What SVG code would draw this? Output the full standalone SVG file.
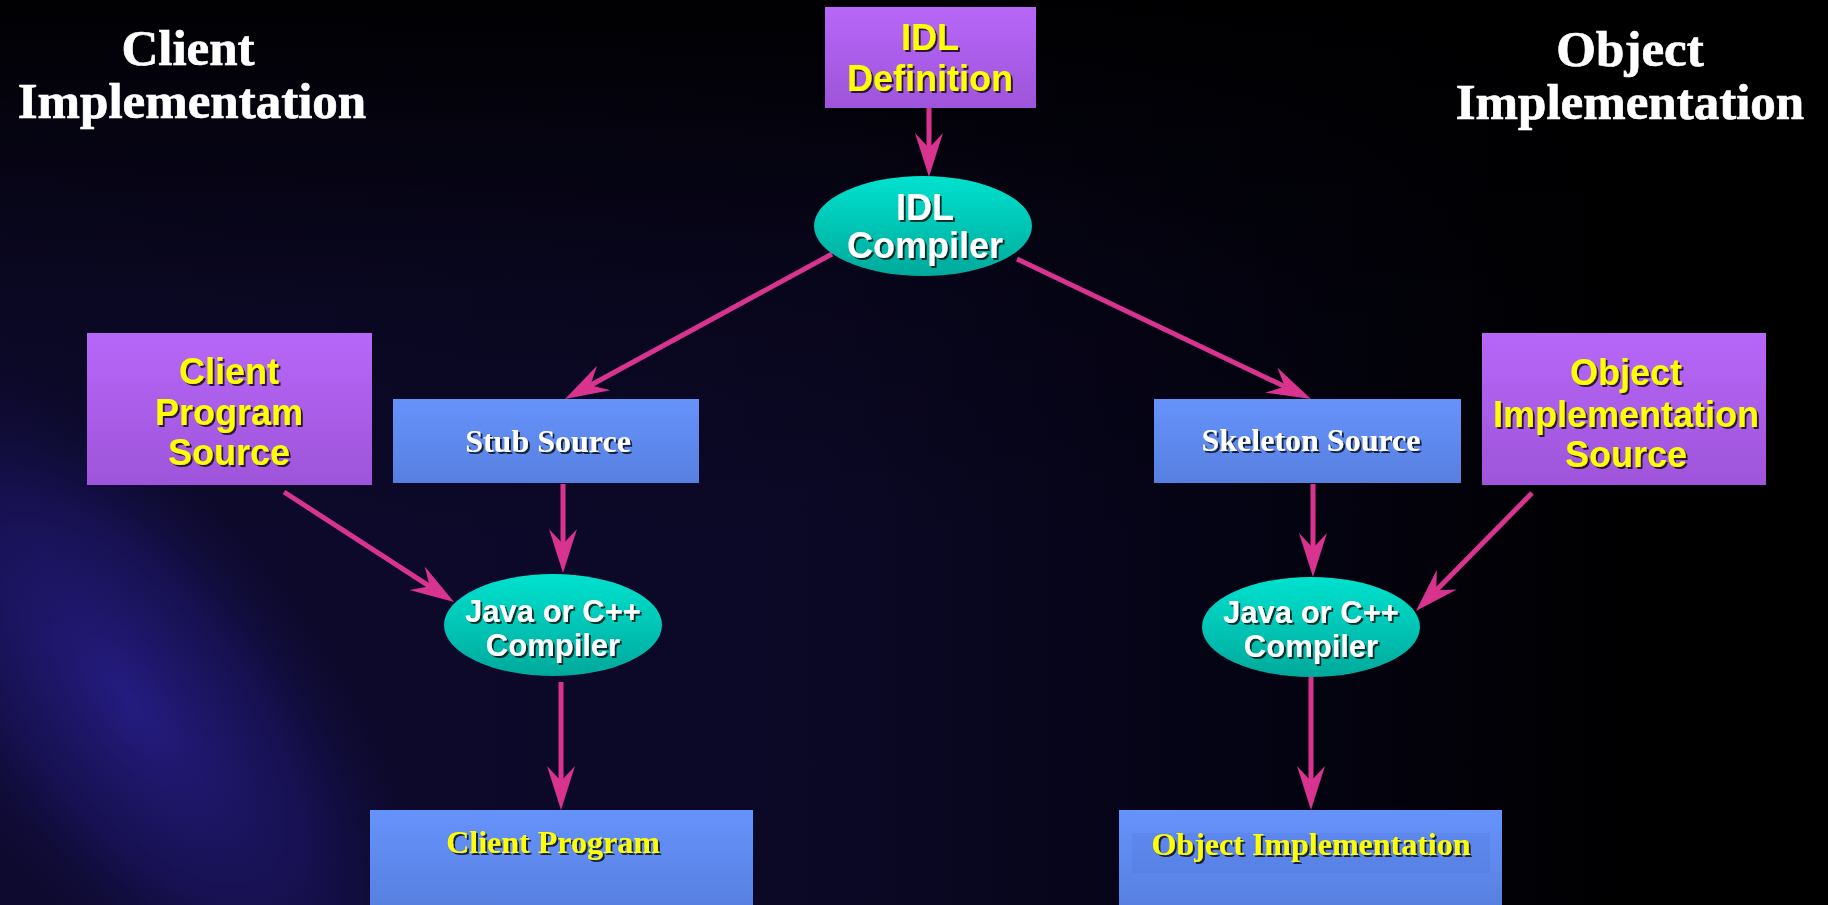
<svg xmlns="http://www.w3.org/2000/svg" width="1828" height="905" viewBox="0 0 1828 905">
  <defs>
    <linearGradient id="bgH" x1="0" y1="0" x2="1" y2="0">
      <stop offset="0" stop-color="#0e0a2f"/>
      <stop offset="0.45" stop-color="#0b0826"/>
      <stop offset="0.7" stop-color="#040312"/>
      <stop offset="0.9" stop-color="#000000"/>
    </linearGradient>
    <linearGradient id="bgTop" x1="0" y1="0" x2="0" y2="1">
      <stop offset="0" stop-color="#000" stop-opacity="0.95"/>
      <stop offset="0.33" stop-color="#000" stop-opacity="0.25"/>
      <stop offset="0.6" stop-color="#000" stop-opacity="0"/>
    </linearGradient>
    <radialGradient id="glow" cx="130" cy="700" r="300" gradientUnits="userSpaceOnUse"
        gradientTransform="translate(130 700) rotate(52) scale(1.5 0.65) translate(-130 -700)">
      <stop offset="0" stop-color="#261d85" stop-opacity="0.95"/>
      <stop offset="0.55" stop-color="#1d166a" stop-opacity="0.6"/>
      <stop offset="1" stop-color="#120e44" stop-opacity="0"/>
    </radialGradient>
    <linearGradient id="purple" x1="0" y1="0" x2="0" y2="1">
      <stop offset="0" stop-color="#b767f8"/>
      <stop offset="1" stop-color="#9e54da"/>
    </linearGradient>
    <linearGradient id="blue" x1="0" y1="0" x2="0" y2="1">
      <stop offset="0" stop-color="#6693fb"/>
      <stop offset="1" stop-color="#577fe0"/>
    </linearGradient>
    <linearGradient id="teal" x1="0" y1="0" x2="0" y2="1">
      <stop offset="0" stop-color="#00e2cf"/>
      <stop offset="1" stop-color="#00a99b"/>
    </linearGradient>
    <filter id="shadow" x="-10%" y="-20%" width="120%" height="150%">
      <feDropShadow dx="2" dy="2" stdDeviation="0.6" flood-color="#000" flood-opacity="0.75"/>
    </filter>
    <marker id="arrow" viewBox="-16 -15 46 30" refX="0" refY="0" markerWidth="46" markerHeight="30" markerUnits="userSpaceOnUse" orient="auto">
      <path d="M29,0 L-15,-14 L0,0 L-15,14 Z" fill="#d8348f"/>
    </marker>
    <style>
      .purpleBox { fill: url(#purple); }
      .blueBox { fill: url(#blue); }
      .oval { fill: url(#teal); }
      .sans { font-family: "Liberation Sans", Arial, sans-serif; font-weight: bold; text-anchor: middle; filter: url(#shadow); }
      .serif { font-family: "Liberation Serif", "Times New Roman", serif; font-weight: bold; text-anchor: middle; filter: url(#shadow); }
      .yellow { fill: #ffff00; }
      .white { fill: #ffffff; }
      .title { font-size: 51px; fill: #ffffff; stroke: #ffffff; stroke-width: 0.7; font-family: "Liberation Serif", "Times New Roman", serif; font-weight: bold; text-anchor: middle; }
      .conn { stroke: #d8348f; stroke-width: 5; fill: none; marker-end: url(#arrow); }
    </style>
  </defs>

  <!-- background -->
  <rect x="0" y="0" width="1828" height="905" fill="url(#bgH)"/>
  <rect x="0" y="0" width="1828" height="905" fill="url(#glow)"/>
  <rect x="0" y="0" width="1828" height="905" fill="url(#bgTop)"/>

  <!-- column titles -->
  <g id="title-client">
    <text class="title" x="188" y="65">Client</text>
    <text class="title" x="192" y="118">Implementation</text>
  </g>
  <g id="title-object">
    <text class="title" x="1630" y="66">Object</text>
    <text class="title" x="1630" y="119">Implementation</text>
  </g>

  <!-- connectors -->
  <g id="connectors">
    <line class="conn" x1="929" y1="104" x2="929" y2="148"/>
    <line class="conn" x1="832" y1="254" x2="590.5" y2="385.2"/>
    <line class="conn" x1="1017" y1="259" x2="1284.8" y2="386.5"/>
    <line class="conn" x1="284" y1="492" x2="429.7" y2="586.3"/>
    <line class="conn" x1="563" y1="484" x2="563" y2="544"/>
    <line class="conn" x1="561" y1="682" x2="561" y2="781"/>
    <line class="conn" x1="1313" y1="484" x2="1313" y2="548"/>
    <line class="conn" x1="1532" y1="493" x2="1436.3" y2="590.3"/>
    <line class="conn" x1="1311" y1="677" x2="1311" y2="781"/>
  </g>

  <!-- IDL source -->
  <g id="idl-definition">
    <rect class="purpleBox" x="825" y="7" width="211" height="101"/>
    <text class="sans yellow" x="930" y="50" font-size="36">IDL</text>
    <text class="sans yellow" x="930" y="91" font-size="36">Definition</text>
  </g>

  <g id="idl-compiler">
    <ellipse class="oval" cx="923" cy="226" rx="109" ry="50"/>
    <text class="sans white" x="925" y="220" font-size="36">IDL</text>
    <text class="sans white" x="925" y="258" font-size="36">Compiler</text>
  </g>

  <!-- client side -->
  <g id="client-program-source">
    <rect class="purpleBox" x="87" y="333" width="285" height="152"/>
    <text class="sans yellow" x="229" y="384" font-size="36">Client</text>
    <text class="sans yellow" x="229" y="425" font-size="36">Program</text>
    <text class="sans yellow" x="229" y="465" font-size="36">Source</text>
  </g>

  <g id="stub-source">
    <rect class="blueBox" x="393" y="399" width="306" height="84"/>
    <text class="serif white" x="548" y="452" font-size="32">Stub Source</text>
  </g>

  <g id="client-compiler">
    <ellipse class="oval" cx="553" cy="625" rx="109" ry="51"/>
    <text class="sans white" x="553" y="622" font-size="31">Java or C++</text>
    <text class="sans white" x="553" y="656" font-size="31">Compiler</text>
  </g>

  <g id="client-program">
    <rect class="blueBox" x="370" y="810" width="383" height="100"/>
    <text class="serif yellow" x="553" y="853" font-size="32">Client Program</text>
  </g>

  <!-- object side -->
  <g id="skeleton-source">
    <rect class="blueBox" x="1154" y="399" width="307" height="84"/>
    <text class="serif white" x="1311" y="451" font-size="32">Skeleton Source</text>
  </g>

  <g id="object-implementation-source">
    <rect class="purpleBox" x="1482" y="333" width="284" height="152"/>
    <text class="sans yellow" x="1626" y="385" font-size="36">Object</text>
    <text class="sans yellow" x="1626" y="427" font-size="36">Implementation</text>
    <text class="sans yellow" x="1626" y="467" font-size="36">Source</text>
  </g>

  <g id="object-compiler">
    <ellipse class="oval" cx="1311" cy="627" rx="109" ry="50"/>
    <text class="sans white" x="1311" y="623" font-size="31">Java or C++</text>
    <text class="sans white" x="1311" y="657" font-size="31">Compiler</text>
  </g>

  <g id="object-implementation">
    <rect class="blueBox" x="1119" y="810" width="383" height="100"/>
    <rect x="1132" y="833" width="358" height="40" fill="#4f74d6" opacity="0.25"/>
    <text class="serif yellow" x="1311" y="855" font-size="32">Object Implementation</text>
  </g>
</svg>
